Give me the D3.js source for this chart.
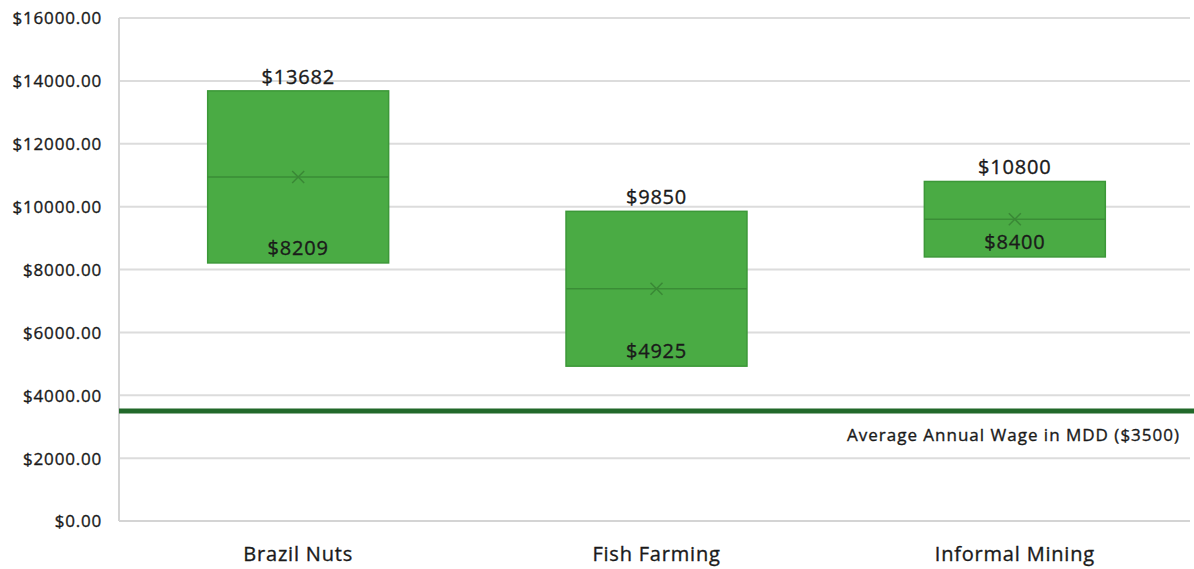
<!DOCTYPE html>
<html>
<head>
<meta charset="utf-8">
<script src="https://cdn.jsdelivr.net/npm/d3@7"></script>
<style>
  html, body { margin: 0; padding: 0; background: #fff; }
  svg { display: block; font-family: "Open Sans", sans-serif; }
  svg text { stroke: #1a1a1a; stroke-width: 0.35px; }
</style>
</head>
<body>
<svg id="chart" width="1194" height="569"></svg>
<script>
// Annual income ranges by livelihood (USD)
const categories = ["Brazil Nuts", "Fish Farming", "Informal Mining"];
const lowValues  = [8209, 4925, 8400];
const highValues = [13682, 9850, 10800];
const midValues  = [10945, 7388, 9600];
const meanValues = [10945, 7388, 9600];
const yTicks = [0, 2000, 4000, 6000, 8000, 10000, 12000, 14000, 16000];
const wageValue = 3500;
const wageLabel = "Average Annual Wage in MDD ($3500)";

const svg = d3.select("#chart");
const plotLeft = 119, plotRight = 1194, plotTop = 18, plotBottom = 521;

const x = d3.scaleBand().domain(categories).range([plotLeft, plotRight]).padding(0);
const y = d3.scaleLinear().domain([0, 16000]).range([plotBottom, plotTop]);

const rows = categories.map((c, i) => ({
  cat: c, low: lowValues[i], high: highValues[i], mid: midValues[i], mean: meanValues[i]
}));

// gridlines
svg.append("g")
  .selectAll("line")
  .data(yTicks.filter(t => t > 0))
  .join("line")
  .attr("x1", plotLeft).attr("x2", plotRight - 4)
  .attr("y1", d => y(d)).attr("y2", d => y(d))
  .attr("stroke", "#dcdcdc").attr("stroke-width", 2);

// axis frame lines
svg.append("line").attr("x1", plotLeft).attr("x2", plotLeft).attr("y1", plotTop).attr("y2", plotBottom)
  .attr("stroke", "#d4d4d4").attr("stroke-width", 2);
svg.append("line").attr("x1", plotLeft).attr("x2", plotRight - 4).attr("y1", plotBottom).attr("y2", plotBottom)
  .attr("stroke", "#d4d4d4").attr("stroke-width", 2);

// y axis labels
const yAxis = d3.axisLeft(y).tickValues(yTicks).tickSize(0).tickPadding(0)
  .tickFormat(d => "$" + d3.format(".2f")(d));
const yg = svg.append("g").attr("transform", `translate(${102},0)`).call(yAxis);
yg.select(".domain").remove();
yg.selectAll("text")
  .attr("font-family", "Open Sans, sans-serif")
  .attr("font-size", 17).attr("letter-spacing", "0.8px")
  .attr("fill", "#1a1a1a").attr("dy", "0.35em");

// x axis labels
const xAxis = d3.axisBottom(x).tickSize(0).tickPadding(0);
const xg = svg.append("g").attr("transform", `translate(0,${plotBottom})`).call(xAxis);
xg.select(".domain").remove();
xg.selectAll("text")
  .attr("font-family", "Open Sans, sans-serif")
  .attr("font-size", 20).attr("letter-spacing", "0.8px")
  .attr("fill", "#1a1a1a").attr("y", 40).attr("dy", 0);

// boxes
const boxW = x.bandwidth() * 0.505;
const cx = d => x(d.cat) + x.bandwidth() / 2;
const g = svg.append("g");
g.selectAll("rect.box").data(rows).join("rect")
  .attr("class", "box")
  .attr("x", d => cx(d) - boxW / 2)
  .attr("width", boxW)
  .attr("y", d => y(d.high))
  .attr("height", d => y(d.low) - y(d.high))
  .attr("fill", "#4aab44").attr("stroke", "#3c9838").attr("stroke-width", 1.5);

g.selectAll("line.mid").data(rows).join("line")
  .attr("class", "mid")
  .attr("x1", d => cx(d) - boxW / 2).attr("x2", d => cx(d) + boxW / 2)
  .attr("y1", d => y(d.mid)).attr("y2", d => y(d.mid))
  .attr("stroke", "#3a8d36").attr("stroke-width", 1.5);

// mean markers
const m = 6;
g.selectAll("path.mean").data(rows).join("path")
  .attr("class", "mean")
  .attr("d", d => {
    const px = cx(d), py = y(d.mean);
    return `M${px - m},${py - m}L${px + m},${py + m}M${px - m},${py + m}L${px + m},${py - m}`;
  })
  .attr("stroke", "#3a8836").attr("stroke-width", 1.5).attr("fill", "none");

// value labels
g.selectAll("text.hi").data(rows).join("text")
  .attr("class", "hi")
  .attr("x", cx).attr("y", d => y(d.high) - 7)
  .attr("text-anchor", "middle")
  .attr("font-size", 20).attr("letter-spacing", "0.8px").attr("fill", "#1a1a1a")
  .text(d => "$" + d.high);
g.selectAll("text.lo").data(rows).join("text")
  .attr("class", "lo")
  .attr("x", cx).attr("y", d => y(d.low) - 8)
  .attr("text-anchor", "middle")
  .attr("font-size", 20).attr("letter-spacing", "0.8px").attr("fill", "#1a1a1a")
  .text(d => "$" + d.low);

// average wage reference line
svg.append("line")
  .attr("x1", plotLeft).attr("x2", plotRight)
  .attr("y1", y(wageValue)).attr("y2", y(wageValue))
  .attr("stroke", "#22692a").attr("stroke-width", 5);
svg.append("text")
  .attr("x", 1180).attr("y", y(wageValue) + 30)
  .attr("text-anchor", "end")
  .attr("font-size", 17).attr("letter-spacing", "1px").attr("fill", "#1a1a1a")
  .text(wageLabel);
</script>
</body>
</html>
